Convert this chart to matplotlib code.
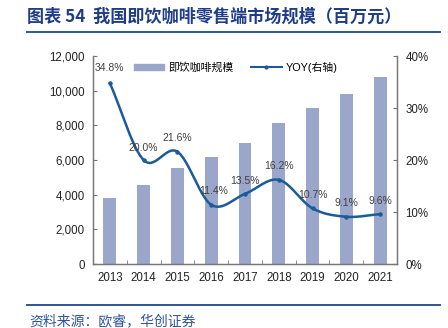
import numpy as np
import matplotlib
matplotlib.use("Agg")
import matplotlib.pyplot as plt
from matplotlib.lines import Line2D
from matplotlib.patches import Patch

plt.rcParams['font.family'] = ['Liberation Sans', 'Noto Sans CJK SC', 'DejaVu Sans']

years = ['2013', '2014', '2015', '2016', '2017', '2018', '2019', '2020', '2021']
market_size = [3800, 4560, 5545, 6177, 7011, 8147, 9019, 9840, 10784]
yoy = [34.8, 20.0, 21.6, 11.4, 13.5, 16.2, 10.7, 9.1, 9.6]

bar_color = '#9BA6CB'
line_color = '#1C5B9A'
text_blue = '#1F3C88'


def smooth(xs, ys, n=30):
    # Catmull-Rom curve through the points, for the smoothed line look
    xs = np.asarray(xs, float)
    ys = np.asarray(ys, float)
    px = np.concatenate([[2 * xs[0] - xs[1]], xs, [2 * xs[-1] - xs[-2]]])
    py = np.concatenate([[2 * ys[0] - ys[1]], ys, [2 * ys[-1] - ys[-2]]])
    out_x, out_y = [], []
    t = np.linspace(0, 1, n)
    for i in range(1, len(px) - 2):
        for p, out in ((px, out_x), (py, out_y)):
            p0, p1, p2, p3 = p[i - 1], p[i], p[i + 1], p[i + 2]
            out.extend(0.5 * (2 * p1 + (-p0 + p2) * t
                              + (2 * p0 - 5 * p1 + 4 * p2 - p3) * t ** 2
                              + (-p0 + 3 * p1 - 3 * p2 + p3) * t ** 3))
    return np.array(out_x), np.array(out_y)


fig = plt.figure(figsize=(4.48, 3.28), dpi=100)
ax = fig.add_axes([0.2076, 0.195, 0.6786, 0.634])
ax2 = ax.twinx()

x = np.arange(len(years))
ax.bar(x, market_size, width=0.38, color=bar_color, zorder=2)
ax.set_ylim(0, 12000)
ax.set_yticks(range(0, 12001, 2000))
ax.set_yticklabels([f'{v:,}' for v in range(0, 12001, 2000)])
ax.set_xlim(-0.5, len(years) - 0.5)
ax.set_xticks(x)
ax.set_xticklabels(years)
ax.set_xticks(np.arange(-0.5, len(years)), minor=True)
ax.tick_params(axis='x', which='major', length=0, pad=6, labelsize=8.3, colors='#222222')
ax.tick_params(axis='x', which='minor', direction='in', length=3, color='#777777')
ax.tick_params(axis='y', direction='in', length=3, color='#777777', labelsize=8.3,
               labelcolor='#222222', pad=6)

sx, sy = smooth(x, yoy)
ax2.plot(sx, sy, color=line_color, lw=1.8, zorder=3)
ax2.plot(x, yoy, 'o', color=line_color, ms=2.2, zorder=4)
ax2.set_ylim(0, 40)
ax2.set_yticks(range(0, 41, 10))
ax2.set_yticklabels([f'{v}%' for v in range(0, 41, 10)])
ax2.tick_params(axis='y', direction='in', length=3, color='#777777', labelsize=8.3,
                labelcolor='#222222', pad=6)

label_offsets = [(0, 7), (0, 5), (0, 6), (2, 6), (0, 6), (0, 6), (0, 6), (0, 6), (0, 6)]
for xi, v, off in zip(x, yoy, label_offsets):
    ax2.annotate(f'{v:.1f}%', (xi, v), xytext=off, textcoords='offset points',
                 ha='center', va='bottom', fontsize=7.5, color='#404040')

for a in (ax, ax2):
    a.spines['top'].set_visible(False)
    for s in ('left', 'right', 'bottom'):
        a.spines[s].set_color('#777777')
        a.spines[s].set_linewidth(0.9)

handles = [Patch(color=bar_color), Line2D([0], [0], color=line_color, lw=1.5, marker='o', ms=2)]
ax.legend(handles, ['即饮咖啡规模', 'YOY(右轴)'], loc='upper center', ncol=2,
          bbox_to_anchor=(0.47, 1.02), frameon=False,
          handlelength=2.8, handleheight=0.5, columnspacing=1.6, handletextpad=0.4,
          prop={'family': ['Liberation Sans', 'Noto Sans CJK SC'], 'size': 7.8})

fig.text(0.06, 0.948, '图表 54  我国即饮咖啡零售端市场规模（百万元）', fontsize=12.3,
         fontweight='bold', color=text_blue, va='center',
         family=['Noto Sans CJK SC', 'DejaVu Sans'])
fig.add_artist(Line2D([0.06, 0.982], [0.902, 0.902], color='#2E5596', lw=1.4))
fig.add_artist(Line2D([0.06, 0.982], [0.07, 0.07], color='#2E5596', lw=1.4))
fig.text(0.065, 0.022, '资料来源：欧睿，华创证券', fontsize=10, color='#2E5596',
         va='center', style='italic', family=['Noto Sans CJK SC', 'DejaVu Sans'])

fig.savefig('out.png', dpi=100)
